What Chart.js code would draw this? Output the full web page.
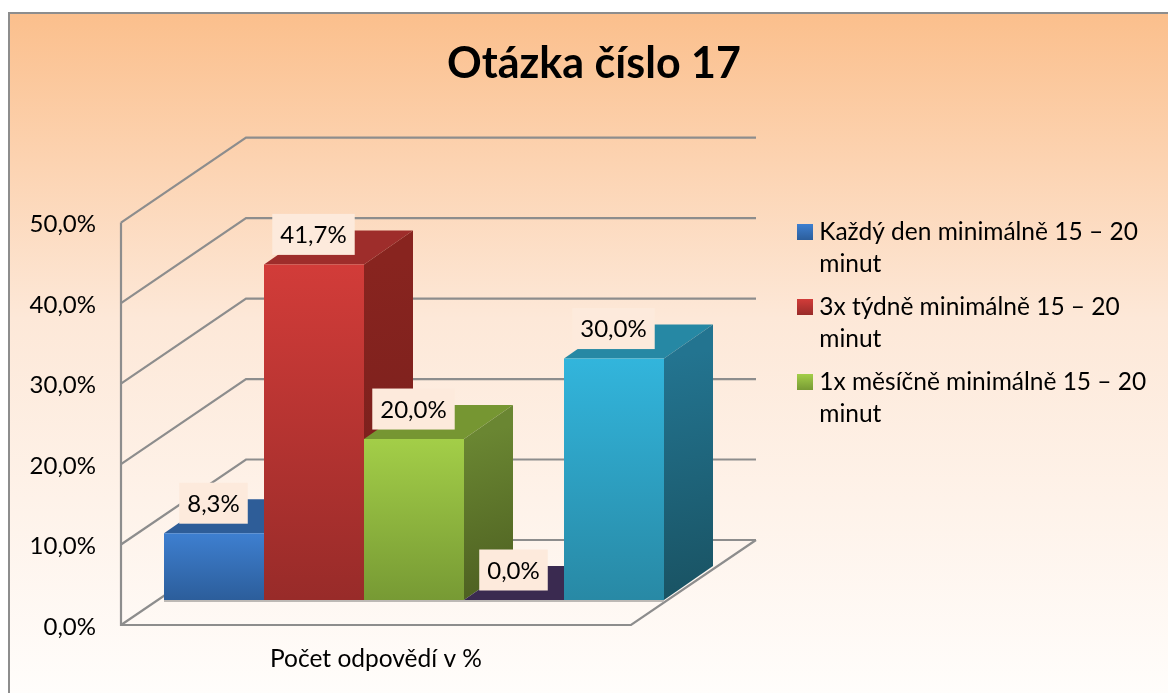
<!DOCTYPE html>
<html>
<head>
<meta charset="utf-8">
<style>
  html, body { margin: 0; padding: 0; background: #fff; }
  canvas { display: block; }
</style>
<script src="https://cdn.jsdelivr.net/npm/chart.js@4"></script>
</head>
<body>
<canvas id="graf" width="1168" height="693"></canvas>
<script>
// Data
const chartTitle = 'Otázka číslo 17';
const categories = ['Počet odpovědí v %'];
const seriesValues = [8.3, 41.7, 20.0, 0.0, 30.0];
const valueLabels = ['8,3%', '41,7%', '20,0%', '0,0%', '30,0%'];
const yTickLabels = ['0,0%', '10,0%', '20,0%', '30,0%', '40,0%', '50,0%'];
// only three of the five series are listed in the legend of the reference
const legendLines = [
  ['Každý den minimálně 15 – 20', 'minut'],
  ['3x týdně minimálně 15 – 20', 'minut'],
  ['1x měsíčně minimálně 15 – 20', 'minut']
];

// Colours per bar: front top, front bottom, top face, side top, side bottom
const frontTop    = ['#3e7fd0', '#d23c39', '#a3ce48', '#6a4f96', '#32b5dc'];
const frontBottom = ['#2c5e9b', '#982b29', '#779a34', '#3a2a50', '#2889a5'];
const topFace     = ['#2e5d98', '#9e2d2b', '#769632', '#3a2a50', '#2688a4'];
const sideTop     = ['#2a5488', '#88241f', '#6a8632', '#3a2a50', '#237490'];
const sideBottom  = ['#1f3f66', '#741e1c', '#4c5e20', '#3a2a50', '#195262'];

const FONT = 'Lato, Carlito, sans-serif';
const LINE = '#8d8d8d';
// 3D geometry: wall depth, shift of the bar row from the front plane, bar depth
const WALL_X = 125, WALL_Y = -85;
const ROW_X = 38, ROW_Y = -25;
const BAR_X = 49, BAR_Y = -34;

function frontGradient(c) {
  const i = c.datasetIndex;
  if (!c.parsed) return frontTop[i];
  const y = c.chart.scales.y;
  const g = c.chart.ctx.createLinearGradient(0, y.getPixelForValue(c.parsed.y), 0, y.getPixelForValue(0));
  g.addColorStop(0, frontTop[i]);
  g.addColorStop(1, frontBottom[i]);
  return g;
}

const datasets = seriesValues.map(function (v, i) {
  return {
    label: legendLines[i] || '',
    data: [v],
    backgroundColor: frontGradient,
    borderWidth: 0
  };
});

function poly(ctx, pts, fill) {
  ctx.beginPath();
  pts.forEach(function (p, i) { i ? ctx.lineTo(p[0], p[1]) : ctx.moveTo(p[0], p[1]); });
  ctx.closePath();
  ctx.fillStyle = fill;
  ctx.fill();
}

const scene3d = {
  id: 'scene3d',
  beforeLayout(chart) {
    // legend takes the whole area right of the plot
    const legend = chart.legend;
    if (!legend._wide) {
      const fit = legend.fit;
      legend.fit = function () { fit.call(this); this.width = 537; };
      legend._wide = true;
    }
  },
  afterLayout(chart) {
    chart.legend.left = 786;
    chart.legend.top = 209;
  },
  beforeDraw(chart) {
    const ctx = chart.ctx;
    const g = ctx.createLinearGradient(0, 12, 0, 693);
    g.addColorStop(0, '#fbbf8c');
    g.addColorStop(0.45, '#fde8d8');
    g.addColorStop(1, '#fffdfb');
    ctx.fillStyle = g;
    ctx.fillRect(8, 12, 1160, 681);
    ctx.strokeStyle = LINE;
    ctx.lineWidth = 2;
    ctx.beginPath();
    ctx.moveTo(9, 693);
    ctx.lineTo(9, 13);
    ctx.lineTo(1168, 13);
    ctx.stroke();
  },
  beforeDatasetsDraw(chart) {
    const ctx = chart.ctx;
    const area = chart.chartArea;
    const yScale = chart.scales.y;

    // walls and floor
    ctx.save();
    ctx.strokeStyle = LINE;
    ctx.lineWidth = 2.2;
    yScale.ticks.forEach(function (t) {
      const y = yScale.getPixelForValue(t.value);
      ctx.beginPath();
      ctx.moveTo(area.left, y);
      ctx.lineTo(area.left + WALL_X, y + WALL_Y);
      ctx.lineTo(area.right + WALL_X, y + WALL_Y);
      ctx.stroke();
    });
    const y0 = yScale.getPixelForValue(0);
    ctx.beginPath();
    ctx.moveTo(area.left, yScale.getPixelForValue(50));
    ctx.lineTo(area.left, y0);
    ctx.lineTo(area.right, y0);
    ctx.lineTo(area.right + WALL_X, y0 + WALL_Y);
    ctx.stroke();
    ctx.restore();

    // bars left to right, each one covers the side of the one before
    chart.data.datasets.forEach(function (ds, i) {
      const bar = chart.getDatasetMeta(i).data[0];
      const l = bar.x - bar.width / 2 + ROW_X;
      const r = bar.x + bar.width / 2 + ROW_X;
      const t = bar.y + ROW_Y;
      const b = bar.base + ROW_Y;

      ctx.fillStyle = '#bdb9b5';
      ctx.fillRect(l, b, bar.width, 2);

      poly(ctx, [[l, t], [l + BAR_X, t + BAR_Y], [r + BAR_X, t + BAR_Y], [r, t]], topFace[i]);
      if (b > t) {
        const g = ctx.createLinearGradient(r, t, r + BAR_X, b);
        g.addColorStop(0, sideTop[i]);
        g.addColorStop(1, sideBottom[i]);
        poly(ctx, [[r, t], [r + BAR_X, t + BAR_Y], [r + BAR_X, b + BAR_Y], [r, b]], g);
      }
      ctx.save();
      ctx.translate(ROW_X, ROW_Y);
      bar.draw(ctx);
      ctx.restore();
    });

    // value labels on top of everything
    ctx.save();
    ctx.font = '24px ' + FONT;
    ctx.textAlign = 'center';
    ctx.textBaseline = 'middle';
    chart.data.datasets.forEach(function (ds, i) {
      const bar = chart.getDatasetMeta(i).data[0];
      const cx = bar.x + ROW_X - 0.5;
      const cy = bar.y + ROW_Y - 30;
      const w = ctx.measureText(valueLabels[i]).width + 16;
      ctx.fillStyle = '#fdeadc';
      ctx.fillRect(cx - w / 2, cy - 20.5, w, 41);
      ctx.fillStyle = '#000';
      ctx.fillText(valueLabels[i], cx, cy + 1);
    });
    ctx.restore();
    return false;
  },
  afterDraw(chart) {
    // the legend keeps a narrow box so its text starts close, real keys go here
    const ctx = chart.ctx;
    legendLines.forEach(function (t, i) {
      const top = 224 + 75 * i;
      const g = ctx.createLinearGradient(0, top, 0, top + 16);
      g.addColorStop(0, frontTop[i]);
      g.addColorStop(1, frontBottom[i]);
      ctx.fillStyle = g;
      ctx.fillRect(797, top, 16, 16);
    });
  }
};

new Chart(document.getElementById('graf').getContext('2d'), {
  type: 'bar',
  data: { labels: categories, datasets: datasets },
  plugins: [scene3d],
  options: {
    responsive: false,
    animation: false,
    events: [],
    layout: { autoPadding: false, padding: { left: 20, top: 0, right: 0, bottom: 0 } },
    datasets: { bar: { barPercentage: 1, categoryPercentage: 500 / 510 } },
    scales: {
      x: {
        grid: { display: false },
        border: { display: false },
        ticks: { color: '#000', font: { family: FONT, size: 24.5 }, padding: 11 },
        afterFit: function (s) { s.height = 68; }
      },
      y: {
        min: 0,
        max: 50,
        grid: { display: false, drawTicks: false },
        border: { display: false },
        ticks: {
          stepSize: 10,
          color: '#000',
          font: { family: FONT, size: 24 },
          padding: 25,
          labelOffset: 2,
          callback: function (v, i) { return yTickLabels[i]; }
        },
        afterFit: function (s) { s.width = 101; }
      }
    },
    plugins: {
      title: {
        display: true,
        text: chartTitle,
        color: '#000',
        font: { family: FONT, size: 43, weight: 'bold' },
        padding: { top: 38, bottom: 133 }
      },
      tooltip: { enabled: false },
      legend: {
        position: 'right',
        align: 'start',
        labels: {
          color: '#000',
          font: { family: FONT, size: 24.5, lineHeight: 1.306 },
          boxWidth: 10,
          boxHeight: 16,
          padding: 11,
          generateLabels: function () {
            return legendLines.map(function (t, i) {
              return {
                text: t,
                fillStyle: 'rgba(0,0,0,0)',
                strokeStyle: 'rgba(0,0,0,0)',
                lineWidth: 0,
                fontColor: '#000',
                textAlign: 'left',
                hidden: false,
                datasetIndex: i
              };
            });
          }
        }
      }
    }
  }
});
</script>
</body>
</html>
